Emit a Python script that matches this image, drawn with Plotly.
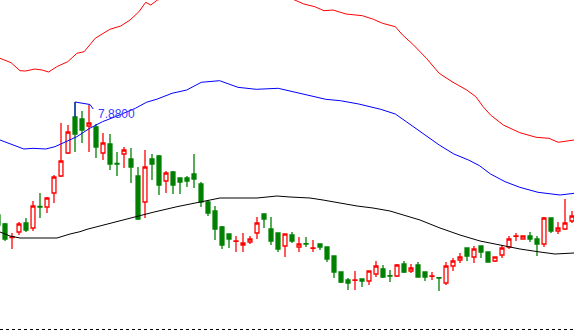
import plotly.graph_objects as go

# ---- candle data (bar index, open, high, low, close) ----
bar_index = list(range(-1, 82))
opens = [6.75, 6.66, 6.525, 6.58, 6.67, 6.62, 6.835, 6.83, 6.97, 7.14,
         7.37, 7.73, 7.71, 7.64, 7.63, 7.37, 7.46, 7.265, 7.36, 7.31,
         7.14, 6.88, 7.31, 7.34, 7.09, 7.18, 7.12, 7.12, 7.16, 7.06,
         6.88, 6.79, 6.63, 6.56, 6.487, 6.45, 6.48, 6.57, 6.76, 6.61,
         6.57, 6.44, 6.55, 6.43, 6.463, 6.417, 6.46, 6.43, 6.34, 6.18,
         6.10, 6.097, 6.11, 6.09, 6.16, 6.21, 6.143, 6.14, 6.26, 6.19,
         6.25, 6.18, 6.137, 6.123, 6.07, 6.24, 6.30, 6.42, 6.33, 6.44,
         6.38, 6.29, 6.35, 6.43, 6.537, 6.51, 6.54, 6.51, 6.46, 6.72,
         6.59, 6.61, 6.69]
highs = [6.78, 6.67, 6.57, 6.68, 6.72, 6.89, 6.97, 6.93, 7.15, 7.67,
         7.65, 7.88, 7.79, 7.85, 7.66, 7.57, 7.56, 7.38, 7.43, 7.42,
         7.23, 7.40, 7.36, 7.35, 7.19, 7.19, 7.125, 7.14, 7.36, 7.08,
         6.90, 6.84, 6.64, 6.565, 6.54, 6.57, 6.54, 6.73, 6.765, 6.73,
         6.575, 6.565, 6.58, 6.53, 6.53, 6.50, 6.463, 6.433, 6.343, 6.183,
         6.12, 6.19, 6.113, 6.193, 6.29, 6.25, 6.20, 6.26, 6.29, 6.26,
         6.28, 6.183, 6.18, 6.125, 6.28, 6.32, 6.37, 6.423, 6.44, 6.443,
         6.383, 6.333, 6.45, 6.54, 6.57, 6.545, 6.58, 6.54, 6.73, 6.723,
         6.68, 6.91, 6.79]
lows = [6.60, 6.49, 6.41, 6.55, 6.58, 6.59, 6.72, 6.77, 6.87, 7.13,
        7.36, 7.38, 7.47, 7.38, 7.32, 7.30, 7.20, 7.14, 7.22, 7.07,
        6.70, 6.72, 7.10, 6.95, 6.97, 6.96, 6.96, 7.03, 7.02, 6.83,
        6.74, 6.50, 6.41, 6.42, 6.38, 6.38, 6.46, 6.51, 6.62, 6.45,
        6.38, 6.33, 6.47, 6.38, 6.43, 6.38, 6.40, 6.28, 6.12, 6.07,
        6.00, 6.00, 6.03, 6.05, 6.13, 6.12, 6.08, 6.13, 6.17, 6.17,
        6.125, 6.09, 6.10, 5.99, 6.05, 6.19, 6.27, 6.29, 6.27, 6.32,
        6.277, 6.28, 6.32, 6.41, 6.49, 6.505, 6.48, 6.34, 6.43, 6.57,
        6.56, 6.60, 6.67]
closes = [6.65, 6.51, 6.53, 6.66, 6.60, 6.84, 6.83, 6.92, 7.13, 7.29,
          7.58, 7.56, 7.60, 7.67, 7.43, 7.47, 7.26, 7.26, 7.40, 7.23,
          6.71, 7.23, 7.26, 7.05, 7.17, 7.05, 7.08, 7.09, 7.11, 6.88,
          6.77, 6.61, 6.45, 6.51, 6.49, 6.47, 6.51, 6.67, 6.71, 6.49,
          6.41, 6.56, 6.49, 6.46, 6.46, 6.42, 6.43, 6.31, 6.18, 6.08,
          6.07, 6.10, 6.09, 6.19, 6.24, 6.13, 6.14, 6.25, 6.18, 6.22,
          6.13, 6.13, 6.14, 6.12, 6.24, 6.29, 6.33, 6.34, 6.41, 6.38,
          6.28, 6.33, 6.42, 6.51, 6.54, 6.54, 6.51, 6.46, 6.72, 6.59,
          6.62, 6.67, 6.74]

# ---- indicator lines (hand-read points: bar index, price) ----
upper_x = [-0.71, 0.86, 2.14, 2.94, 4.26, 5.29, 6.24, 7.39, 8.96, 10.27,
           11.31, 12.89, 14.97, 16.54, 17.86, 19.14, 20.1, 20.83, 21.77, 25.0,
           33.0, 40.0, 41.39, 42.69, 44.26, 45.57, 46.86, 48.71, 51.06, 52.63,
           53.93, 55.76, 56.8, 58.37, 60.2, 62.03, 63.86, 65.96, 67.26, 68.31,
           69.36, 71.19, 73.54, 75.89, 77.71, 79.03, 81.29]
upper_y = [8.317, 8.273, 8.193, 8.19, 8.21, 8.20, 8.18, 8.233, 8.283, 8.367,
           8.383, 8.517, 8.607, 8.64, 8.70, 8.783, 8.877, 8.85, 8.90, 8.96,
           8.99, 8.93, 8.90, 8.86, 8.833, 8.793, 8.80, 8.76, 8.743, 8.707,
           8.667, 8.633, 8.55, 8.45, 8.317, 8.167, 8.083, 8.00, 7.933, 7.833,
           7.75, 7.65, 7.573, 7.527, 7.517, 7.477, 7.50]

mid_x = [-0.71, 0.86, 2.69, 4.0, 5.83, 7.13, 8.7, 10.27, 12.1, 13.93,
         16.01, 18.63, 20.2, 21.77, 23.86, 25.96, 28.04, 30.66, 33.27, 35.89,
         39.03, 41.11, 43.71, 45.83, 47.91, 50.53, 53.67, 55.76, 57.33, 58.9,
         60.46, 62.03, 64.13, 66.21, 67.79, 69.36, 71.44, 73.54, 76.14, 79.29,
         81.29]
mid_y = [7.50, 7.46, 7.41, 7.417, 7.41, 7.433, 7.483, 7.533, 7.617, 7.683,
         7.74, 7.817, 7.877, 7.91, 7.967, 8.00, 8.077, 8.093, 8.027, 8.007,
         8.017, 7.983, 7.94, 7.907, 7.893, 7.86, 7.807, 7.76, 7.683, 7.607,
         7.527, 7.45, 7.36, 7.30, 7.243, 7.16, 7.083, 7.027, 6.977, 6.95,
         6.967]

lower_x = [-0.71, 0.71, 2.14, 7.43, 9.29, 10.71, 11.71, 15.0, 18.29, 21.14,
           24.57, 27.86, 30.71, 36.0, 38.86, 40.71, 43.57, 45.43, 47.86, 50.29,
           52.57, 55.0, 56.43, 59.29, 62.14, 65.0, 67.86, 70.71, 73.57, 76.43,
           78.57, 81.29]
lower_y = [6.58, 6.54, 6.52, 6.52, 6.56, 6.583, 6.607, 6.667, 6.723, 6.777,
           6.833, 6.883, 6.92, 6.92, 6.94, 6.93, 6.92, 6.90, 6.87, 6.84,
           6.82, 6.79, 6.76, 6.70, 6.62, 6.55, 6.49, 6.45, 6.41, 6.38,
           6.36, 6.37]

# ---- high marker ----
high_label = "7.8800"
marker_x = [10, 10, 12.14, 12.6]
marker_y = [7.73, 7.88, 7.855, 7.81]
label_x = 13.0
label_y = 7.76

RED = "#ff0000"
GREEN = "#008000"
BLUE = "#0000ff"

fig = go.Figure()

fig.add_trace(go.Scatter(x=upper_x, y=upper_y, mode="lines",
                         line=dict(color=RED, width=1), hoverinfo="skip"))
fig.add_trace(go.Scatter(x=mid_x, y=mid_y, mode="lines",
                         line=dict(color=BLUE, width=1), hoverinfo="skip"))
fig.add_trace(go.Scatter(x=lower_x, y=lower_y, mode="lines",
                         line=dict(color="#000000", width=1), hoverinfo="skip"))

fig.add_trace(go.Candlestick(
    x=bar_index, open=opens, high=highs, low=lows, close=closes,
    increasing=dict(line=dict(color=RED, width=1.3), fillcolor="#ffffff"),
    decreasing=dict(line=dict(color=GREEN, width=1.3), fillcolor=GREEN),
    whiskerwidth=0, hoverinfo="skip"))

fig.add_trace(go.Scatter(x=marker_x, y=marker_y, mode="lines",
                         line=dict(color=BLUE, width=1), hoverinfo="skip"))

fig.add_annotation(x=label_x, y=label_y, text=high_label, showarrow=False,
                   xanchor="left", yanchor="middle",
                   font=dict(family="Liberation Sans, Arial", size=12, color="#3a3aff"))

fig.add_shape(type="line", xref="paper", yref="paper", x0=0, x1=1,
              y0=1 - 329.5 / 332, y1=1 - 329.5 / 332,
              line=dict(color="#000000", width=1, dash="3px,3px"))

fig.update_layout(
    width=574, height=332,
    margin=dict(l=0, r=0, t=0, b=0),
    paper_bgcolor="#ffffff", plot_bgcolor="#ffffff",
    showlegend=False, boxgap=0.2,
    xaxis=dict(range=[-5 / 7, 569 / 7], visible=False, showgrid=False,
               zeroline=False, rangeslider=dict(visible=False), fixedrange=True),
    yaxis=dict(range=[5.58, 8.90], visible=False, showgrid=False,
               zeroline=False, fixedrange=True),
)

fig.write_html("out.html", config={"displayModeBar": False})
